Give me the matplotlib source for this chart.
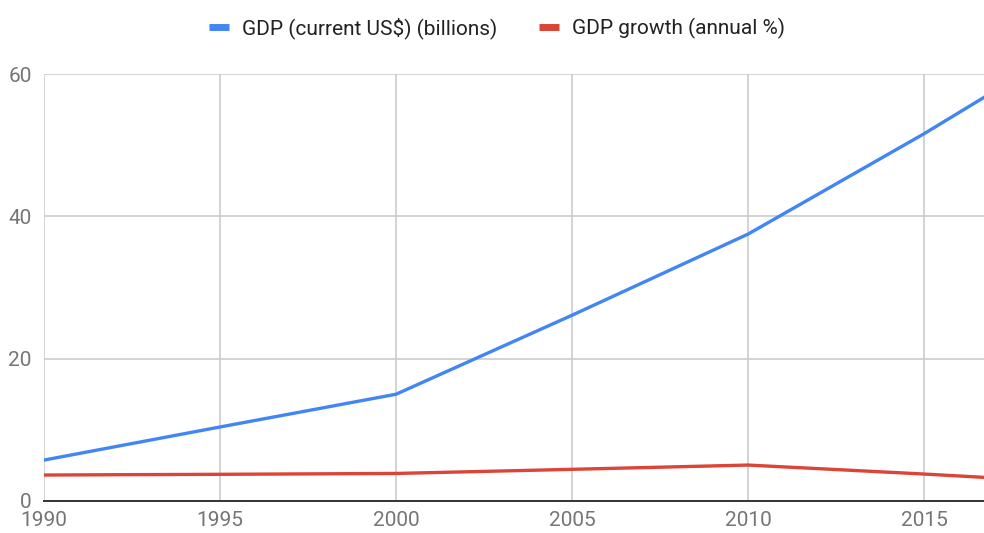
import matplotlib
matplotlib.use("Agg")
import matplotlib.pyplot as plt
from matplotlib.lines import Line2D

plt.rcParams['font.family'] = ['Roboto', 'DejaVu Sans']

years = [1990, 1995, 2000, 2005, 2010, 2015, 2017]
gdp_billions = [5.75, 10.4, 15.0, 26.1, 37.5, 51.6, 57.6]
gdp_growth = [3.65, 3.75, 3.87, 4.45, 5.05, 3.79, 3.24]

x_ticks = [1990, 1995, 2000, 2005, 2010, 2015]
y_ticks = [0, 20, 40, 60]

blue = '#4285F4'
red = '#DB4437'
tick_color = '#757575'
grid_color = '#CCCCCC'

fig = plt.figure(figsize=(9.84, 5.33), dpi=100)
ax = fig.add_axes([44 / 984, 32 / 533, 1 - 44 / 984, (501 - 74) / 533])

ax.plot(years, gdp_billions, color=blue, lw=2.4, solid_joinstyle='round', zorder=3)
ax.plot(years, gdp_growth, color=red, lw=2.4, solid_joinstyle='round', zorder=3)

ax.set_xlim(1990, 1990 + (984 - 44) / 176 * 5)
ax.set_ylim(0, 60)
ax.set_xticks(x_ticks)
ax.set_yticks(y_ticks)
ax.set_xticklabels([str(t) for t in x_ticks])
ax.set_yticklabels([str(t) for t in y_ticks])

ax.grid(True, color=grid_color, lw=1.2, zorder=0)
ax.axhline(0, color='#333333', lw=1.4, zorder=4, clip_on=False)
for s in ax.spines.values():
    s.set_visible(False)

ax.tick_params(axis='both', length=0, labelsize=15, labelcolor=tick_color)
ax.tick_params(axis='x', pad=7)
ax.tick_params(axis='y', pad=9)

handles = [
    Line2D([0], [0], color=blue, lw=5, solid_capstyle='butt'),
    Line2D([0], [0], color=red, lw=5, solid_capstyle='butt'),
]
fig.legend(handles, ['GDP (current US$) (billions)', 'GDP growth (annual %)'],
           loc='center', bbox_to_anchor=(497 / 984, 1 - 28 / 533), ncol=2,
           frameon=False, fontsize=15, handlelength=0.95, handletextpad=0.65,
           columnspacing=2.0, labelcolor='#222222')

fig.savefig('out.png', dpi=100)
